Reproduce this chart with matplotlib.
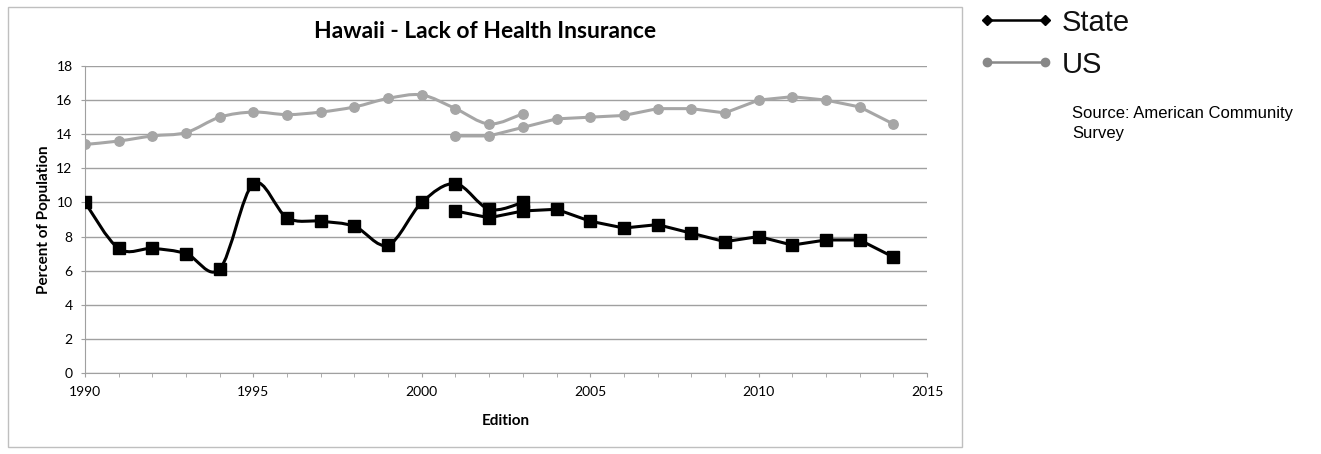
import matplotlib
matplotlib.use("Agg")
import matplotlib.pyplot as plt
from matplotlib.path import Path
from matplotlib.patches import PathPatch, Rectangle
from matplotlib.lines import Line2D

# data
years_a = [1990, 1991, 1992, 1993, 1994, 1995, 1996, 1997, 1998, 1999, 2000, 2001, 2002, 2003]
state_a = [10.0, 7.3, 7.3, 7.0, 6.1, 11.1, 9.1, 8.9, 8.6, 7.5, 10.0, 11.1, 9.6, 10.0]
us_a = [13.4, 13.6, 13.9, 14.1, 15.0, 15.3, 15.15, 15.3, 15.6, 16.1, 16.3, 15.5, 14.6, 15.2]

years_b = [2001, 2002, 2003, 2004, 2005, 2006, 2007, 2008, 2009, 2010, 2011, 2012, 2013, 2014]
state_b = [9.5, 9.1, 9.5, 9.6, 8.9, 8.5, 8.7, 8.2, 7.7, 8.0, 7.5, 7.8, 7.8, 6.8]
us_b = [13.9, 13.9, 14.4, 14.9, 15.0, 15.1, 15.5, 15.5, 15.25, 16.0, 16.2, 16.0, 15.6, 14.6]

legend_labels = ["State", "US"]
source_lines = ["Source: American Community", "Survey"]

BLACK = "#000000"
GRAY = "#A6A6A6"
AXIS_GRAY = "#A0A0A0"
plt.rcParams['font.family'] = ['Lato', 'DejaVu Sans']

W, H = 1321, 454


def smooth_path(xs, ys):
    # bezier curve through the points (like Excel's smoothed line)
    verts = [(xs[0], ys[0])]
    codes = [Path.MOVETO]
    n = len(xs)
    for i in range(n - 1):
        x0, y0 = (xs[i - 1], ys[i - 1]) if i > 0 else (xs[i], ys[i])
        x1, y1 = xs[i], ys[i]
        x2, y2 = xs[i + 1], ys[i + 1]
        x3, y3 = (xs[i + 2], ys[i + 2]) if i + 2 < n else (x2, y2)
        c1 = (x1 + (x2 - x0) / 6, y1 + (y2 - y0) / 6)
        c2 = (x2 - (x3 - x1) / 6, y2 - (y3 - y1) / 6)
        verts += [c1, c2, (x2, y2)]
        codes += [Path.CURVE4] * 3
    return Path(verts, codes)


fig = plt.figure(figsize=(W / 100, H / 100), dpi=100)
ax = fig.add_axes([85 / W, 1 - 373 / H, 842 / W, 307 / H])

# outer chart frame
fig.patches.append(Rectangle((8 / W, 7 / H), 954 / W, 440 / H,
                             transform=fig.transFigure, fill=False,
                             edgecolor="#BFBFBF", linewidth=1))

# US
ax.add_patch(PathPatch(smooth_path(years_a, us_a), fill=False, edgecolor=GRAY, linewidth=2.2, zorder=3))
ax.plot(years_a, us_a, linestyle="none", marker="o", markersize=6.8, color=GRAY, zorder=4)
ax.plot(years_b, us_b, color=GRAY, linewidth=2.2, marker="o", markersize=6.8, zorder=4)

# State
ax.add_patch(PathPatch(smooth_path(years_a, state_a), fill=False, edgecolor=BLACK, linewidth=2.2, zorder=5))
ax.plot(years_a, state_a, linestyle="none", marker="s", markersize=9, color=BLACK, zorder=6)
ax.plot(years_b, state_b, color=BLACK, linewidth=2.2, marker="s", markersize=9, zorder=6)

ax.set_xlim(1990, 2015)
ax.set_ylim(0, 18)
ax.set_xticks(range(1990, 2016, 5))
ax.set_xticks(range(1990, 2016), minor=True)
ax.set_yticks(range(0, 19, 2))
ax.grid(axis="y", color=AXIS_GRAY, linewidth=1)
ax.set_axisbelow(True)
for s in ["top", "right"]:
    ax.spines[s].set_visible(False)
for s in ["left", "bottom"]:
    ax.spines[s].set_color(AXIS_GRAY)
ax.tick_params(axis="both", which="both", color=AXIS_GRAY, labelsize=10, direction="out", length=3)
ax.tick_params(axis="x", which="major", pad=6)
ax.tick_params(axis="y", pad=6)

fig.text(485 / W, 1 - 38 / H, "Hawaii - Lack of Health Insurance", fontsize=16.5,
         fontweight="bold", ha="center", va="baseline")
ax.set_xlabel("Edition", fontsize=11, fontweight="bold", labelpad=12)
ax.set_ylabel("Percent of Population", fontsize=11, fontweight="bold", labelpad=4)

# legend drawn next to the chart frame
legend_styles = [(BLACK, "D", 5, 20), ("#888888", "o", 6, 62)]
for label, (col, mk, ms, ypix) in zip(legend_labels, legend_styles):
    yf = 1 - ypix / H
    fig.add_artist(Line2D([987 / W, 1045 / W], [yf, yf], transform=fig.transFigure,
                          color=col, linewidth=1.8, marker=mk, markersize=ms))
    fig.text(1062 / W, yf, label, fontsize=21, family="Liberation Sans",
             color="#111111", va="center_baseline")

for i, line in enumerate(source_lines):
    fig.text(1072 / W, 1 - (118 + 20 * i) / H, line,
             fontsize=12, family="Liberation Sans", va="baseline")

plt.savefig("out.png", dpi=100)
